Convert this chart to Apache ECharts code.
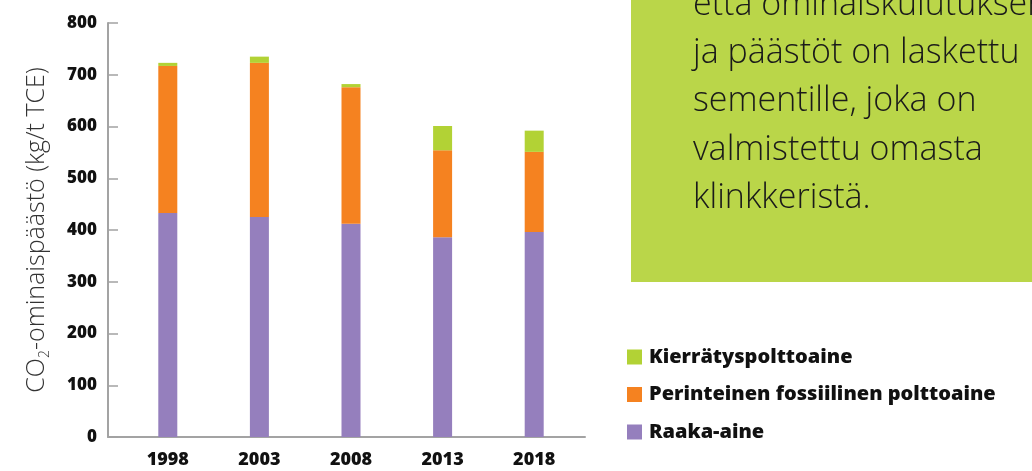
<!DOCTYPE html>
<html>
<head>
<meta charset="utf-8">
<script src="https://cdn.jsdelivr.net/npm/echarts@6/dist/echarts.min.js"></script>
<style>
html, body { margin: 0; padding: 0; background: #fff; }
#main { width: 1032px; height: 471px; }
</style>
</head>
<body>
<div id="main"></div>
<script>
const years = ['1998', '2003', '2008', '2013', '2018'];
const raakaAine = [433, 425, 412, 386, 396];
const perinteinen = [284, 298, 264, 168, 155];
const kierratys = [6, 12, 6, 47, 41];
const yTicks = [0, 800, 100];

const boxLines = [
    'että ominaiskulutuksen',
    'ja päästöt on laskettu',
    'sementille, joka on',
    'valmistettu omasta',
    'klinkkeristä.'
];

var boldFont = {
    fontFamily: 'Open Sans',
    fontWeight: 800,
    color: '#111'
};

var option = {
    animation: false,
    backgroundColor: '#fff',
    textStyle: { fontFamily: 'Open Sans' },
    grid: [
        { left: 122, right: 452, top: 23, bottom: 34 },
        { left: 108, right: 447, top: 23, bottom: 34 }
    ],
    legend: {
        orient: 'vertical',
        left: 627,
        top: 347,
        padding: 0,
        itemWidth: 15,
        itemHeight: 15,
        itemGap: 17.5,
        icon: 'rect',
        data: ['Kierrätyspolttoaine', 'Perinteinen fossiilinen polttoaine', 'Raaka-aine'],
        textStyle: Object.assign({ fontSize: 20, lineHeight: 20, padding: [0, 0, 0, 2] }, boldFont)
    },
    xAxis: [{
        type: 'category',
        gridIndex: 0,
        data: years,
        axisLine: { show: false },
        axisTick: { show: false },
        axisLabel: Object.assign({ fontSize: 18, margin: 14 }, boldFont)
    }, {
        type: 'value',
        gridIndex: 1,
        min: 0,
        max: 1,
        axisLine: { show: true, lineStyle: { color: '#a3a3a3', width: 2 } },
        axisTick: { show: false },
        axisLabel: { show: false },
        splitLine: { show: false }
    }],
    yAxis: [{
        type: 'value',
        gridIndex: 0,
        min: yTicks[0],
        max: yTicks[1],
        interval: yTicks[2],
        show: false
    }, {
        type: 'value',
        gridIndex: 1,
        min: yTicks[0],
        max: yTicks[1],
        interval: yTicks[2],
        name: 'CO{sub|2}-ominaispäästö (kg/t TCE)',
        nameLocation: 'middle',
        nameGap: 56,
        nameTextStyle: {
            fontFamily: 'Open Sans',
            fontWeight: 300,
            fontSize: 25,
            color: '#333',
            rich: {
                sub: {
                    fontFamily: 'Open Sans',
                    fontWeight: 300,
                    fontSize: 14,
                    color: '#333',
                    padding: [16, 0, 0, 0]
                }
            }
        },
        axisLine: { show: true, lineStyle: { color: '#a3a3a3', width: 2 } },
        axisTick: { show: true, inside: true, length: 10, lineStyle: { color: '#a3a3a3', width: 1.5 } },
        axisLabel: Object.assign({ fontSize: 17, margin: 11 }, boldFont),
        splitLine: { show: false }
    }],
    graphic: [{
        type: 'rect',
        shape: { x: 631, y: -5, width: 410, height: 287 },
        style: { fill: '#bad649' },
        silent: true
    }, {
        type: 'text',
        x: 693,
        y: -19,
        style: {
            text: boxLines.join('\n'),
            fontFamily: 'Open Sans',
            fontWeight: 300,
            fontSize: 34,
            lineHeight: 48.3,
            fill: '#1a1a1a'
        },
        silent: true
    }],
    series: [{
        name: 'Raaka-aine',
        type: 'bar',
        stack: 'co2',
        barWidth: 19,
        data: raakaAine,
        itemStyle: { color: '#957fbd' }
    }, {
        name: 'Perinteinen fossiilinen polttoaine',
        type: 'bar',
        stack: 'co2',
        barWidth: 19,
        data: perinteinen,
        itemStyle: { color: '#f58220' }
    }, {
        name: 'Kierrätyspolttoaine',
        type: 'bar',
        stack: 'co2',
        barWidth: 19,
        data: kierratys,
        itemStyle: { color: '#b2d235' }
    }]
};

var chart = echarts.init(document.getElementById('main'));
chart.setOption(option);
window.addEventListener('resize', function() {
    chart.resize();
});
</script>
</body>
</html>
